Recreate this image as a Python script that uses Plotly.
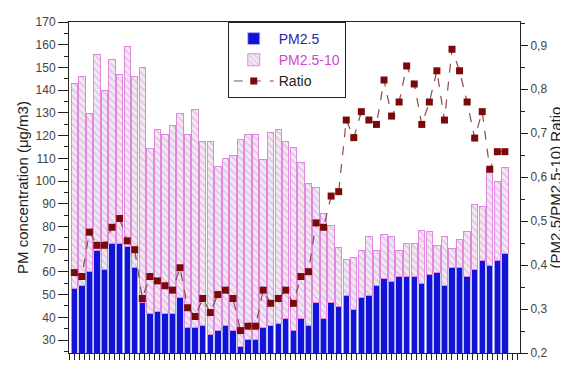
import plotly.graph_objects as go

days = list(range(1, 59))

pm25 = [52.9, 53.9, 60.0, 69.4, 61.1, 72.3, 72.3, 71.3, 62.0, 46.4,
        41.7, 42.6, 41.7, 41.7, 48.9, 35.4, 35.4, 36.4, 32.3, 34.2,
        36.4, 34.2, 27.0, 30.2, 30.2, 35.4, 36.4, 37.4, 39.5, 34.2,
        39.5, 36.4, 46.7, 39.5, 46.7, 44.7, 49.7, 43.5, 48.9, 49.7,
        53.9, 56.9, 55.9, 57.9, 57.9, 57.9, 54.9, 58.9, 59.9, 53.9,
        62.0, 62.0, 57.9, 61.1, 65.1, 62.9, 65.1, 68.2]

pm10 = [142.9, 146.1, 129.7, 155.9, 139.8, 153.3, 147.0, 159.0, 146.0, 150.1,
        114.3, 122.5, 120.4, 124.4, 129.7, 120.4, 131.4, 117.2, 117.2, 106.3,
        110.0, 111.1, 118.5, 120.4, 120.4, 109.3, 121.5, 122.5, 117.2, 114.6,
        108.2, 98.8, 97.0, 85.9, 80.5, 70.6, 65.4, 66.3, 69.4, 75.4,
        69.4, 76.6, 75.4, 69.4, 72.3, 72.3, 78.4, 77.7, 71.6, 75.4,
        70.4, 74.4, 77.7, 89.8, 88.8, 105.3, 99.9, 106.0]

ratio = [0.383, 0.374, 0.475, 0.445, 0.445, 0.486, 0.506, 0.455, 0.435, 0.324,
         0.374, 0.364, 0.353, 0.343, 0.394, 0.303, 0.283, 0.324, 0.292, 0.333,
         0.343, 0.324, 0.251, 0.261, 0.261, 0.343, 0.313, 0.324, 0.343, 0.313,
         0.374, 0.385, 0.496, 0.486, 0.557, 0.567, 0.730, 0.690, 0.749, 0.730,
         0.720, 0.821, 0.739, 0.771, 0.853, 0.812, 0.720, 0.771, 0.842, 0.730,
         0.891, 0.842, 0.771, 0.689, 0.749, 0.618, 0.658, 0.658]

coarse = [t - f for t, f in zip(pm10, pm25)]

FONT = "Liberation Sans, Arial, sans-serif"

fig = go.Figure()
fig.add_trace(go.Bar(
    x=days, y=pm25, name="<span style='color:#2828a8'>PM2.5</span>",
    marker=dict(color="#1212d8", line=dict(color="#b8c0f0", width=0.8)),
))
fig.add_trace(go.Bar(
    x=days, y=coarse, name="<span style='color:#d048d0'>PM2.5-10</span>",
    marker=dict(color="#f4e0f4", line=dict(color="#e088e0", width=1),
                pattern=dict(shape="\\", fgcolor="#bca8bc", bgcolor="#f7e6f7",
                             size=5, solidity=0.3)),
))
fig.add_trace(go.Scatter(
    x=days, y=ratio, yaxis="y2", name="<span style='color:#222'>Ratio</span>",
    mode="lines+markers",
    line=dict(color="#8a4a4a", width=1.2, dash="dash"),
    marker=dict(symbol="square", size=7, color="#7a0a0a"),
))

# page body has an 8px margin, so the figure is sized/offset to compensate
fig.update_layout(
    width=560, height=359,
    margin=dict(l=61, r=47, t=7, b=12),
    paper_bgcolor="white", plot_bgcolor="white",
    barmode="stack", bargap=0.16,
    separators=", ",
    font=dict(family=FONT, color="#333", size=12),
    showlegend=True,
    legend=dict(x=0.352, y=1, xanchor="left", yanchor="top",
                bgcolor="white", bordercolor="#222", borderwidth=1,
                font=dict(size=14), tracegroupgap=0, itemwidth=40,
                traceorder="normal"),
    xaxis=dict(range=[0.3, 60.0], showticklabels=False, showgrid=False,
               automargin=False,
               zeroline=False, showline=True, linecolor="#222", linewidth=1,
               mirror=True, ticks="outside", tickcolor="#222", ticklen=6,
               tick0=0.33, dtick=2/3),
    yaxis=dict(range=[24.3, 170], dtick=10, showgrid=False, zeroline=False,
               automargin=True,
               showline=True, linecolor="#222", linewidth=1,
               ticks="outside", tickcolor="#222", ticklen=10,
               minor=dict(dtick=5, ticks="outside", ticklen=4, tickcolor="#222"),
               tickfont=dict(size=12, color="#444"),
               title=dict(text="PM concentration (μg/m3)",
                          font=dict(size=15, color="#222"), standoff=3)),
    yaxis2=dict(range=[0.2, 0.953], dtick=0.1, tickformat=".1f",
                automargin=True,
                overlaying="y", side="right", showgrid=False, zeroline=False,
                showline=True, linecolor="#222", linewidth=1,
                ticks="outside", tickcolor="#222", ticklen=7,
                minor=dict(dtick=0.05, ticks="outside", ticklen=4, tickcolor="#222"),
                tickfont=dict(size=12, color="#444"),
                title=dict(text="(PM2.5/PM2.5-10) Ratio",
                           font=dict(size=15, color="#222"), standoff=3)),
)

fig.write_html("out.html")
